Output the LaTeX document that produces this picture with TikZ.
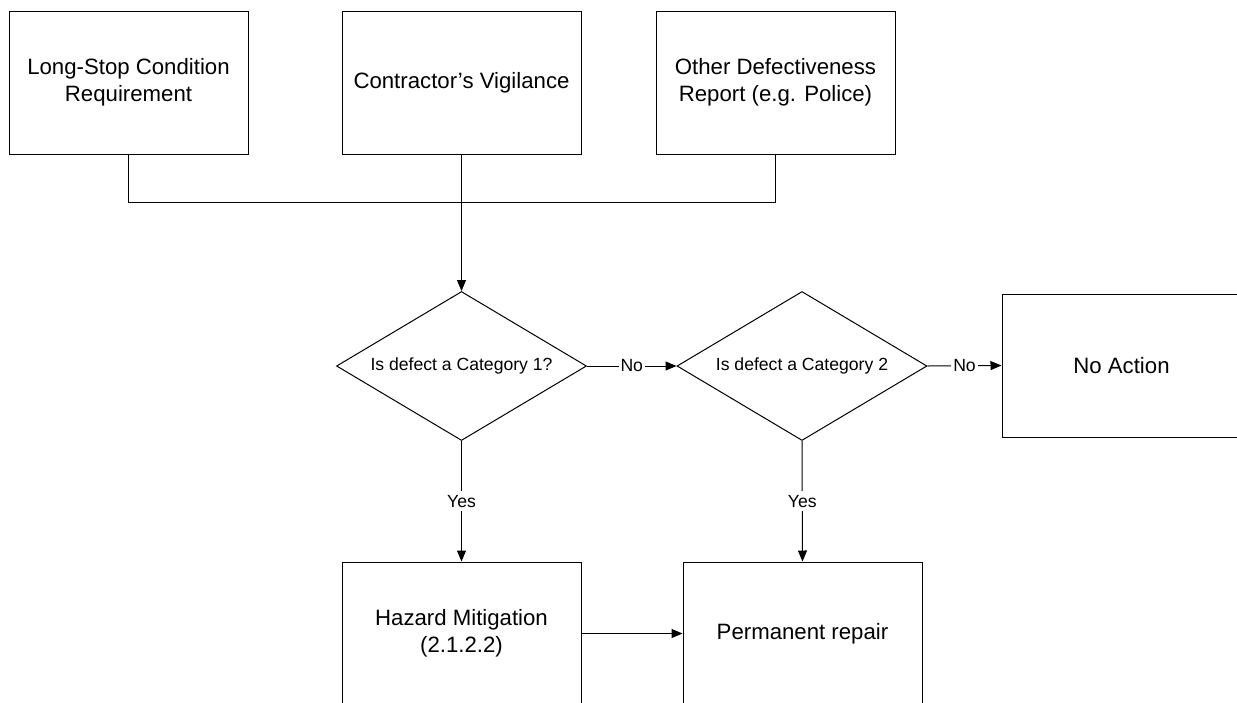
\documentclass[tikz,border=0pt]{standalone}
\usepackage{fontspec}
\setmainfont{Liberation Sans}
\usetikzlibrary{arrows.meta,shapes.geometric}
\begin{document}
\begin{tikzpicture}[x=1pt,y=-1pt,
  box/.style={draw,line width=1pt,minimum width=239pt,minimum height=143pt,inner sep=0pt,align=center,font=\fontsize{22.2}{26.6}\selectfont},
  dec/.style={draw,line width=1pt,diamond,minimum width=250pt,minimum height=149pt,inner sep=0pt,font=\fontsize{17.6}{20}\selectfont},
  lbl/.style={fill=white,inner xsep=2pt,inner ysep=4pt,font=\fontsize{17.6}{20}\selectfont},
  arr/.style={line width=1pt,-{Triangle[length=11pt,width=9pt]}},
  con/.style={line width=1pt}]
\useasboundingbox (0,0) rectangle (1237,702);
\clip (0,0) rectangle (1237,702);
\node[box] (b1) at (128.5,82.5) {Long-Stop Condition\\Requirement};
\node[box] (b2) at (461.5,82.5) {Contractor’s Vigilance};
\node[box] (b3) at (775.5,82.5) {Other Defectiveness\\Report (e.g. Police)};
\node[dec] (d1) at (461.5,366) {\makebox[0pt]{Is defect a Category 1?}};
\node[dec] (d2) at (802,366) {\makebox[0pt]{Is defect a Category 2}};
\node[box] (na) at (1121.5,365.5) {No Action};
\node[box] (hm) at (461.5,633.5) {Hazard Mitigation\\(2.1.2.2)};
\node[box] (pr) at (802.5,633.5) {Permanent repair};
\coordinate (bus) at (0,202);
\draw[con] (b1.south) -- (b1.south |- bus) -- (b3.south |- bus) -- (b3.south);
\draw[arr] (b2.south) -- (d1.north);
\draw[arr] (d1.east) -- node[lbl] {No} (d2.west);
\draw[arr] (d2.east) -- node[lbl] {No} (na.west);
\draw[arr] (d1.south) -- node[lbl] {Yes} (hm.north);
\draw[arr] (d2.south) -- node[lbl] {Yes} (pr.north);
\draw[arr] (hm.east) -- (pr.west);
\end{tikzpicture}
\end{document}
